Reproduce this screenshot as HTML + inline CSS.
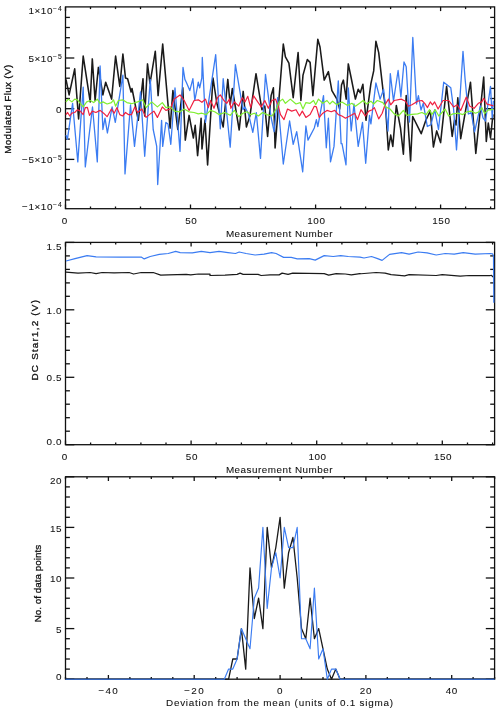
<!DOCTYPE html>
<html><head><meta charset="utf-8"><title>plot</title>
<style>
html,body{margin:0;padding:0;background:#fff;}
svg{display:block}
text{font-family:"Liberation Sans",sans-serif;font-size:9.9px;fill:#111;stroke:#111;stroke-width:0.08px;letter-spacing:0.55px}
.ttl{letter-spacing:0.55px}
.rot{stroke-width:0.3px}
</style></head><body>
<svg width="499" height="709" viewBox="0 0 499 709">
<rect width="499" height="709" fill="#fff"/>
<g stroke="#111" stroke-width="1.3" shape-rendering="auto">
<rect x="65.5" y="6.9" width="429.1" height="201.8" fill="none"/>
<line x1="65.5" y1="208.7" x2="65.5" y2="204.5"/>
<line x1="65.5" y1="6.9" x2="65.5" y2="11.1"/>
<line x1="90.5" y1="208.7" x2="90.5" y2="206.5"/>
<line x1="90.5" y1="6.9" x2="90.5" y2="9.1"/>
<line x1="115.5" y1="208.7" x2="115.5" y2="206.5"/>
<line x1="115.5" y1="6.9" x2="115.5" y2="9.1"/>
<line x1="140.5" y1="208.7" x2="140.5" y2="206.5"/>
<line x1="140.5" y1="6.9" x2="140.5" y2="9.1"/>
<line x1="165.5" y1="208.7" x2="165.5" y2="206.5"/>
<line x1="165.5" y1="6.9" x2="165.5" y2="9.1"/>
<line x1="190.5" y1="208.7" x2="190.5" y2="204.5"/>
<line x1="190.5" y1="6.9" x2="190.5" y2="11.1"/>
<line x1="215.5" y1="208.7" x2="215.5" y2="206.5"/>
<line x1="215.5" y1="6.9" x2="215.5" y2="9.1"/>
<line x1="240.5" y1="208.7" x2="240.5" y2="206.5"/>
<line x1="240.5" y1="6.9" x2="240.5" y2="9.1"/>
<line x1="265.5" y1="208.7" x2="265.5" y2="206.5"/>
<line x1="265.5" y1="6.9" x2="265.5" y2="9.1"/>
<line x1="290.6" y1="208.7" x2="290.6" y2="206.5"/>
<line x1="290.6" y1="6.9" x2="290.6" y2="9.1"/>
<line x1="315.6" y1="208.7" x2="315.6" y2="204.5"/>
<line x1="315.6" y1="6.9" x2="315.6" y2="11.1"/>
<line x1="340.6" y1="208.7" x2="340.6" y2="206.5"/>
<line x1="340.6" y1="6.9" x2="340.6" y2="9.1"/>
<line x1="365.6" y1="208.7" x2="365.6" y2="206.5"/>
<line x1="365.6" y1="6.9" x2="365.6" y2="9.1"/>
<line x1="390.6" y1="208.7" x2="390.6" y2="206.5"/>
<line x1="390.6" y1="6.9" x2="390.6" y2="9.1"/>
<line x1="415.6" y1="208.7" x2="415.6" y2="206.5"/>
<line x1="415.6" y1="6.9" x2="415.6" y2="9.1"/>
<line x1="440.6" y1="208.7" x2="440.6" y2="204.5"/>
<line x1="440.6" y1="6.9" x2="440.6" y2="11.1"/>
<line x1="465.6" y1="208.7" x2="465.6" y2="206.5"/>
<line x1="465.6" y1="6.9" x2="465.6" y2="9.1"/>
<line x1="490.6" y1="208.7" x2="490.6" y2="206.5"/>
<line x1="490.6" y1="6.9" x2="490.6" y2="9.1"/>
<line x1="65.5" y1="199.9" x2="69.9" y2="199.9"/>
<line x1="494.6" y1="199.9" x2="490.2" y2="199.9"/>
<line x1="65.5" y1="189.8" x2="69.9" y2="189.8"/>
<line x1="494.6" y1="189.8" x2="490.2" y2="189.8"/>
<line x1="65.5" y1="179.6" x2="69.9" y2="179.6"/>
<line x1="494.6" y1="179.6" x2="490.2" y2="179.6"/>
<line x1="65.5" y1="169.5" x2="69.9" y2="169.5"/>
<line x1="494.6" y1="169.5" x2="490.2" y2="169.5"/>
<line x1="65.5" y1="159.4" x2="74.3" y2="159.4"/>
<line x1="494.6" y1="159.4" x2="485.8" y2="159.4"/>
<line x1="65.5" y1="149.2" x2="69.9" y2="149.2"/>
<line x1="494.6" y1="149.2" x2="490.2" y2="149.2"/>
<line x1="65.5" y1="139.1" x2="69.9" y2="139.1"/>
<line x1="494.6" y1="139.1" x2="490.2" y2="139.1"/>
<line x1="65.5" y1="128.9" x2="69.9" y2="128.9"/>
<line x1="494.6" y1="128.9" x2="490.2" y2="128.9"/>
<line x1="65.5" y1="118.8" x2="69.9" y2="118.8"/>
<line x1="494.6" y1="118.8" x2="490.2" y2="118.8"/>
<line x1="65.5" y1="108.7" x2="74.3" y2="108.7"/>
<line x1="494.6" y1="108.7" x2="485.8" y2="108.7"/>
<line x1="65.5" y1="98.5" x2="69.9" y2="98.5"/>
<line x1="494.6" y1="98.5" x2="490.2" y2="98.5"/>
<line x1="65.5" y1="88.4" x2="69.9" y2="88.4"/>
<line x1="494.6" y1="88.4" x2="490.2" y2="88.4"/>
<line x1="65.5" y1="78.2" x2="69.9" y2="78.2"/>
<line x1="494.6" y1="78.2" x2="490.2" y2="78.2"/>
<line x1="65.5" y1="68.1" x2="69.9" y2="68.1"/>
<line x1="494.6" y1="68.1" x2="490.2" y2="68.1"/>
<line x1="65.5" y1="58.0" x2="74.3" y2="58.0"/>
<line x1="494.6" y1="58.0" x2="485.8" y2="58.0"/>
<line x1="65.5" y1="47.8" x2="69.9" y2="47.8"/>
<line x1="494.6" y1="47.8" x2="490.2" y2="47.8"/>
<line x1="65.5" y1="37.7" x2="69.9" y2="37.7"/>
<line x1="494.6" y1="37.7" x2="490.2" y2="37.7"/>
<line x1="65.5" y1="27.5" x2="69.9" y2="27.5"/>
<line x1="494.6" y1="27.5" x2="490.2" y2="27.5"/>
<line x1="65.5" y1="17.4" x2="69.9" y2="17.4"/>
<line x1="494.6" y1="17.4" x2="490.2" y2="17.4"/>
<rect x="65.5" y="242.4" width="429.1" height="202.3" fill="none"/>
<line x1="65.5" y1="444.7" x2="65.5" y2="440.5"/>
<line x1="65.5" y1="242.4" x2="65.5" y2="246.6"/>
<line x1="90.6" y1="444.7" x2="90.6" y2="442.5"/>
<line x1="90.6" y1="242.4" x2="90.6" y2="244.6"/>
<line x1="115.7" y1="444.7" x2="115.7" y2="442.5"/>
<line x1="115.7" y1="242.4" x2="115.7" y2="244.6"/>
<line x1="140.9" y1="444.7" x2="140.9" y2="442.5"/>
<line x1="140.9" y1="242.4" x2="140.9" y2="244.6"/>
<line x1="166.0" y1="444.7" x2="166.0" y2="442.5"/>
<line x1="166.0" y1="242.4" x2="166.0" y2="244.6"/>
<line x1="191.1" y1="444.7" x2="191.1" y2="440.5"/>
<line x1="191.1" y1="242.4" x2="191.1" y2="246.6"/>
<line x1="216.2" y1="444.7" x2="216.2" y2="442.5"/>
<line x1="216.2" y1="242.4" x2="216.2" y2="244.6"/>
<line x1="241.4" y1="444.7" x2="241.4" y2="442.5"/>
<line x1="241.4" y1="242.4" x2="241.4" y2="244.6"/>
<line x1="266.5" y1="444.7" x2="266.5" y2="442.5"/>
<line x1="266.5" y1="242.4" x2="266.5" y2="244.6"/>
<line x1="291.6" y1="444.7" x2="291.6" y2="442.5"/>
<line x1="291.6" y1="242.4" x2="291.6" y2="244.6"/>
<line x1="316.7" y1="444.7" x2="316.7" y2="440.5"/>
<line x1="316.7" y1="242.4" x2="316.7" y2="246.6"/>
<line x1="341.9" y1="444.7" x2="341.9" y2="442.5"/>
<line x1="341.9" y1="242.4" x2="341.9" y2="244.6"/>
<line x1="367.0" y1="444.7" x2="367.0" y2="442.5"/>
<line x1="367.0" y1="242.4" x2="367.0" y2="244.6"/>
<line x1="392.1" y1="444.7" x2="392.1" y2="442.5"/>
<line x1="392.1" y1="242.4" x2="392.1" y2="244.6"/>
<line x1="417.2" y1="444.7" x2="417.2" y2="442.5"/>
<line x1="417.2" y1="242.4" x2="417.2" y2="244.6"/>
<line x1="442.3" y1="444.7" x2="442.3" y2="440.5"/>
<line x1="442.3" y1="242.4" x2="442.3" y2="246.6"/>
<line x1="467.5" y1="444.7" x2="467.5" y2="442.5"/>
<line x1="467.5" y1="242.4" x2="467.5" y2="244.6"/>
<line x1="492.6" y1="444.7" x2="492.6" y2="442.5"/>
<line x1="492.6" y1="242.4" x2="492.6" y2="244.6"/>
<line x1="65.5" y1="444.7" x2="74.3" y2="444.7"/>
<line x1="494.6" y1="444.7" x2="485.8" y2="444.7"/>
<line x1="65.5" y1="431.2" x2="69.9" y2="431.2"/>
<line x1="494.6" y1="431.2" x2="490.2" y2="431.2"/>
<line x1="65.5" y1="417.7" x2="69.9" y2="417.7"/>
<line x1="494.6" y1="417.7" x2="490.2" y2="417.7"/>
<line x1="65.5" y1="404.2" x2="69.9" y2="404.2"/>
<line x1="494.6" y1="404.2" x2="490.2" y2="404.2"/>
<line x1="65.5" y1="390.8" x2="69.9" y2="390.8"/>
<line x1="494.6" y1="390.8" x2="490.2" y2="390.8"/>
<line x1="65.5" y1="377.3" x2="74.3" y2="377.3"/>
<line x1="494.6" y1="377.3" x2="485.8" y2="377.3"/>
<line x1="65.5" y1="363.8" x2="69.9" y2="363.8"/>
<line x1="494.6" y1="363.8" x2="490.2" y2="363.8"/>
<line x1="65.5" y1="350.3" x2="69.9" y2="350.3"/>
<line x1="494.6" y1="350.3" x2="490.2" y2="350.3"/>
<line x1="65.5" y1="336.8" x2="69.9" y2="336.8"/>
<line x1="494.6" y1="336.8" x2="490.2" y2="336.8"/>
<line x1="65.5" y1="323.3" x2="69.9" y2="323.3"/>
<line x1="494.6" y1="323.3" x2="490.2" y2="323.3"/>
<line x1="65.5" y1="309.8" x2="74.3" y2="309.8"/>
<line x1="494.6" y1="309.8" x2="485.8" y2="309.8"/>
<line x1="65.5" y1="296.3" x2="69.9" y2="296.3"/>
<line x1="494.6" y1="296.3" x2="490.2" y2="296.3"/>
<line x1="65.5" y1="282.9" x2="69.9" y2="282.9"/>
<line x1="494.6" y1="282.9" x2="490.2" y2="282.9"/>
<line x1="65.5" y1="269.4" x2="69.9" y2="269.4"/>
<line x1="494.6" y1="269.4" x2="490.2" y2="269.4"/>
<line x1="65.5" y1="255.9" x2="69.9" y2="255.9"/>
<line x1="494.6" y1="255.9" x2="490.2" y2="255.9"/>
<line x1="65.5" y1="242.4" x2="74.3" y2="242.4"/>
<line x1="494.6" y1="242.4" x2="485.8" y2="242.4"/>
<rect x="65.5" y="476.8" width="429.1" height="202.4" fill="none"/>
<line x1="65.5" y1="679.2" x2="65.5" y2="677.0"/>
<line x1="65.5" y1="476.8" x2="65.5" y2="479.0"/>
<line x1="87.0" y1="679.2" x2="87.0" y2="677.0"/>
<line x1="87.0" y1="476.8" x2="87.0" y2="479.0"/>
<line x1="108.4" y1="679.2" x2="108.4" y2="675.0"/>
<line x1="108.4" y1="476.8" x2="108.4" y2="481.0"/>
<line x1="129.9" y1="679.2" x2="129.9" y2="677.0"/>
<line x1="129.9" y1="476.8" x2="129.9" y2="479.0"/>
<line x1="151.3" y1="679.2" x2="151.3" y2="677.0"/>
<line x1="151.3" y1="476.8" x2="151.3" y2="479.0"/>
<line x1="172.8" y1="679.2" x2="172.8" y2="677.0"/>
<line x1="172.8" y1="476.8" x2="172.8" y2="479.0"/>
<line x1="194.2" y1="679.2" x2="194.2" y2="675.0"/>
<line x1="194.2" y1="476.8" x2="194.2" y2="481.0"/>
<line x1="215.7" y1="679.2" x2="215.7" y2="677.0"/>
<line x1="215.7" y1="476.8" x2="215.7" y2="479.0"/>
<line x1="237.1" y1="679.2" x2="237.1" y2="677.0"/>
<line x1="237.1" y1="476.8" x2="237.1" y2="479.0"/>
<line x1="258.6" y1="679.2" x2="258.6" y2="677.0"/>
<line x1="258.6" y1="476.8" x2="258.6" y2="479.0"/>
<line x1="280.1" y1="679.2" x2="280.1" y2="675.0"/>
<line x1="280.1" y1="476.8" x2="280.1" y2="481.0"/>
<line x1="301.5" y1="679.2" x2="301.5" y2="677.0"/>
<line x1="301.5" y1="476.8" x2="301.5" y2="479.0"/>
<line x1="323.0" y1="679.2" x2="323.0" y2="677.0"/>
<line x1="323.0" y1="476.8" x2="323.0" y2="479.0"/>
<line x1="344.4" y1="679.2" x2="344.4" y2="677.0"/>
<line x1="344.4" y1="476.8" x2="344.4" y2="479.0"/>
<line x1="365.9" y1="679.2" x2="365.9" y2="675.0"/>
<line x1="365.9" y1="476.8" x2="365.9" y2="481.0"/>
<line x1="387.3" y1="679.2" x2="387.3" y2="677.0"/>
<line x1="387.3" y1="476.8" x2="387.3" y2="479.0"/>
<line x1="408.8" y1="679.2" x2="408.8" y2="677.0"/>
<line x1="408.8" y1="476.8" x2="408.8" y2="479.0"/>
<line x1="430.2" y1="679.2" x2="430.2" y2="677.0"/>
<line x1="430.2" y1="476.8" x2="430.2" y2="479.0"/>
<line x1="451.7" y1="679.2" x2="451.7" y2="675.0"/>
<line x1="451.7" y1="476.8" x2="451.7" y2="481.0"/>
<line x1="473.1" y1="679.2" x2="473.1" y2="677.0"/>
<line x1="473.1" y1="476.8" x2="473.1" y2="479.0"/>
<line x1="494.6" y1="679.2" x2="494.6" y2="677.0"/>
<line x1="494.6" y1="476.8" x2="494.6" y2="479.0"/>
<line x1="65.5" y1="679.2" x2="74.3" y2="679.2"/>
<line x1="494.6" y1="679.2" x2="485.8" y2="679.2"/>
<line x1="65.5" y1="669.1" x2="69.9" y2="669.1"/>
<line x1="494.6" y1="669.1" x2="490.2" y2="669.1"/>
<line x1="65.5" y1="659.0" x2="69.9" y2="659.0"/>
<line x1="494.6" y1="659.0" x2="490.2" y2="659.0"/>
<line x1="65.5" y1="648.8" x2="69.9" y2="648.8"/>
<line x1="494.6" y1="648.8" x2="490.2" y2="648.8"/>
<line x1="65.5" y1="638.7" x2="69.9" y2="638.7"/>
<line x1="494.6" y1="638.7" x2="490.2" y2="638.7"/>
<line x1="65.5" y1="628.6" x2="74.3" y2="628.6"/>
<line x1="494.6" y1="628.6" x2="485.8" y2="628.6"/>
<line x1="65.5" y1="618.5" x2="69.9" y2="618.5"/>
<line x1="494.6" y1="618.5" x2="490.2" y2="618.5"/>
<line x1="65.5" y1="608.4" x2="69.9" y2="608.4"/>
<line x1="494.6" y1="608.4" x2="490.2" y2="608.4"/>
<line x1="65.5" y1="598.2" x2="69.9" y2="598.2"/>
<line x1="494.6" y1="598.2" x2="490.2" y2="598.2"/>
<line x1="65.5" y1="588.1" x2="69.9" y2="588.1"/>
<line x1="494.6" y1="588.1" x2="490.2" y2="588.1"/>
<line x1="65.5" y1="578.0" x2="74.3" y2="578.0"/>
<line x1="494.6" y1="578.0" x2="485.8" y2="578.0"/>
<line x1="65.5" y1="567.9" x2="69.9" y2="567.9"/>
<line x1="494.6" y1="567.9" x2="490.2" y2="567.9"/>
<line x1="65.5" y1="557.8" x2="69.9" y2="557.8"/>
<line x1="494.6" y1="557.8" x2="490.2" y2="557.8"/>
<line x1="65.5" y1="547.6" x2="69.9" y2="547.6"/>
<line x1="494.6" y1="547.6" x2="490.2" y2="547.6"/>
<line x1="65.5" y1="537.5" x2="69.9" y2="537.5"/>
<line x1="494.6" y1="537.5" x2="490.2" y2="537.5"/>
<line x1="65.5" y1="527.4" x2="74.3" y2="527.4"/>
<line x1="494.6" y1="527.4" x2="485.8" y2="527.4"/>
<line x1="65.5" y1="517.3" x2="69.9" y2="517.3"/>
<line x1="494.6" y1="517.3" x2="490.2" y2="517.3"/>
<line x1="65.5" y1="507.2" x2="69.9" y2="507.2"/>
<line x1="494.6" y1="507.2" x2="490.2" y2="507.2"/>
<line x1="65.5" y1="497.0" x2="69.9" y2="497.0"/>
<line x1="494.6" y1="497.0" x2="490.2" y2="497.0"/>
<line x1="65.5" y1="486.9" x2="69.9" y2="486.9"/>
<line x1="494.6" y1="486.9" x2="490.2" y2="486.9"/>
<line x1="65.5" y1="476.8" x2="74.3" y2="476.8"/>
<line x1="494.6" y1="476.8" x2="485.8" y2="476.8"/>
</g>
<polyline fill="none" stroke="#1a1a1a" stroke-width="1.55" stroke-linejoin="round" points="66.0,79.4 69.1,94.9 74.7,68.8 78.6,118.9 83.2,56.1 90.2,101.9 92.3,58.9 95.1,100.5 98.4,67.4 102.9,94.9 105.7,82.2 111.6,99.1 115.6,56.1 119.8,86.4 122.9,54.0 125.5,78.0 127.6,78.7 131.1,92.0 132.0,88.5 138.3,120.3 143.0,78.7 144.7,116.0 147.5,63.9 150.0,83.6 155.3,51.2 158.1,95.6 162.7,44.1 170.1,128.1 172.9,90.6 177.8,129.5 182.8,87.8 185.3,140.1 189.1,115.4 193.4,138.0 195.2,125.3 197.6,155.6 201.1,118.2 202.0,149.0 205.0,120.0 207.6,165.0 213.0,78.0 216.8,103.0 223.2,127.0 227.8,79.4 230.2,104.8 232.3,88.5 239.2,130.0 243.2,91.4 246.4,127.0 250.0,115.4 256.0,73.7 261.9,109.7 264.8,106.0 267.6,136.5 271.1,95.6 273.4,87.8 275.1,148.0 283.3,44.1 285.4,56.8 288.9,63.1 293.2,97.7 298.1,52.6 300.9,100.5 303.0,75.1 307.3,59.6 310.1,62.4 312.9,95.6 317.8,39.2 320.0,47.0 324.2,80.1 328.4,71.6 331.9,90.6 336.9,99.1 339.7,109.0 341.5,85.0 343.4,80.1 346.2,99.1 348.3,63.9 351.2,78.0 355.4,99.1 358.2,89.2 360.3,92.8 362.9,84.3 366.0,120.3 370.9,83.6 373.7,70.9 375.9,41.3 378.7,52.6 382.9,89.2 385.7,109.0 388.3,150.0 390.7,135.1 392.8,146.4 396.3,105.5 400.5,128.1 403.4,154.2 406.2,95.6 410.6,161.0 412.7,116.5 421.2,133.7 426.1,119.6 430.3,111.0 433.4,147.0 436.7,130.9 440.6,142.6 446.6,86.4 452.2,136.5 454.5,120.0 456.0,125.0 457.8,97.7 460.7,138.7 470.5,82.2 475.8,153.4 483.7,77.1 486.3,141.5 488.3,123.0 490.5,138.0 493.0,114.4"/>
<polyline fill="none" stroke="#3b7cf2" stroke-width="1.3" stroke-linejoin="round" points="66.0,135.1 67.4,139.4 72.6,103.3 77.8,161.9 83.2,87.1 85.3,166.9 92.5,107.0 97.3,161.9 100.1,66.0 102.9,129.5 105.0,118.2 107.4,133.0 112.1,106.9 115.3,122.4 122.9,75.1 125.0,173.9 130.5,105.0 134.5,146.4 140.5,92.0 144.7,156.3 150.3,79.4 153.2,129.5 156.7,146.4 157.7,184.5 161.6,120.3 162.7,146.4 165.9,122.4 168.0,124.0 170.8,144.3 175.0,87.8 180.0,151.4 183.0,67.4 184.9,79.4 186.3,82.2 189.8,90.6 192.9,78.7 194.8,100.5 198.3,82.2 199.7,87.8 201.8,78.0 202.3,57.5 205.5,122.4 215.7,54.7 220.3,128.8 223.2,78.7 230.2,147.1 235.4,64.6 243.0,109.7 245.0,107.0 248.5,114.0 252.8,132.3 256.3,112.6 260.5,158.4 265.5,74.4 271.1,117.5 274.1,131.6 277.6,97.7 283.3,164.0 289.6,121.0 293.2,144.3 296.7,131.6 302.7,171.8 305.9,126.0 308.0,140.1 314.3,128.0 316.4,119.6 317.8,126.7 323.5,95.6 326.3,147.8 328.4,118.2 330.5,161.9 334.0,146.4 338.3,80.8 341.1,143.6 342.0,143.6 346.0,164.8 348.3,87.8 351.2,130.9 354.0,104.0 358.2,146.4 362.5,122.4 365.7,163.3 369.5,115.4 370.9,123.9 375.9,82.9 380.1,99.1 383.6,89.2 388.0,131.0 390.3,73.6 393.5,101.0 398.1,70.5 400.9,96.9 404.0,62.0 406.2,66.7 409.5,122.0 412.8,37.5 416.5,104.0 418.4,95.7 421.0,110.0 423.3,103.3 427.3,126.5 431.0,124.6 434.7,109.7 438.5,129.5 443.7,82.2 450.8,87.8 453.6,109.0 456.5,149.9 460.7,86.4 463.0,51.4 465.0,78.0 468.4,114.0 471.2,112.6 474.6,131.8 480.4,106.0 483.0,117.8 485.5,121.0 490.5,86.4 492.2,117.8 493.4,100.8"/>
<polyline fill="none" stroke="#f02040" stroke-width="1.2" stroke-linejoin="round" points="65.9,114.6 67.6,112.5 69.8,116.0 71.9,113.2 74.7,112.5 77.5,109.7 80.3,111.1 83.2,114.6 85.3,107.6 87.4,107.3 89.5,115.3 92.3,111.1 95.9,112.5 100.1,110.4 103.6,113.2 107.1,116.7 111.4,109.0 114.2,113.2 117.0,107.6 119.8,114.6 122.6,116.0 125.5,112.5 128.3,114.6 131.6,114.6 134.8,106.9 137.6,112.5 141.9,109.0 146.1,117.4 150.3,113.9 153.9,111.1 157.4,117.4 162.3,106.9 165.9,110.4 170.1,109.0 174.3,99.1 180.0,94.9 184.2,100.5 189.1,110.4 194.1,100.5 198.3,99.8 201.9,102.3 205.5,99.1 208.3,107.6 210.5,100.5 214.0,108.3 217.5,97.7 220.3,94.9 223.9,100.5 226.7,103.3 229.5,99.1 230.9,108.3 234.4,101.9 238.7,106.2 242.2,97.7 245.0,101.9 247.8,96.3 250.7,107.6 253.5,95.6 257.7,101.9 261.2,106.9 264.8,100.5 268.3,108.3 271.9,100.5 275.5,99.1 278.3,106.2 280.5,114.6 284.0,119.6 287.5,109.0 291.7,111.1 296.0,109.7 299.5,116.0 302.3,111.1 305.9,117.4 310.1,114.6 314.3,106.2 316.4,106.9 319.2,117.4 322.8,113.2 327.0,110.4 331.2,111.8 334.8,110.4 338.3,114.6 341.9,116.0 345.5,118.2 349.8,116.0 354.7,113.2 357.5,119.6 361.0,109.7 365.3,116.0 368.8,111.1 372.3,109.7 374.4,107.6 378.7,118.9 382.2,113.2 385.0,104.8 388.5,99.1 390.7,104.8 394.2,100.5 401.2,99.1 405.5,101.2 408.3,106.2 411.9,104.8 417.6,101.2 421.9,100.5 424.7,103.3 427.5,107.6 430.3,101.9 432.5,104.8 434.6,101.9 438.1,109.0 443.0,100.5 448.7,100.5 453.6,106.9 457.1,104.8 460.7,110.4 466.3,97.0 469.8,106.2 474.1,108.3 478.3,103.3 481.8,101.9 483.7,98.3 487.1,104.2 493.4,105.9"/>
<polyline fill="none" stroke="#7fee30" stroke-width="1.2" stroke-linejoin="round" points="65.9,101.9 68.3,99.1 71.9,101.9 74.7,99.1 77.5,99.8 80.3,103.3 83.2,106.9 86.7,101.9 90.2,100.5 93.7,102.6 97.3,99.1 100.1,103.3 102.9,101.9 107.1,104.0 111.4,102.6 113.5,99.8 115.6,106.2 118.4,100.5 122.6,99.8 126.9,102.6 131.6,103.7 137.6,101.9 142.6,99.8 146.1,107.6 151.7,101.9 157.4,106.9 162.3,102.6 165.9,107.6 170.1,106.9 174.3,111.1 180.0,111.8 184.2,109.0 189.1,111.8 194.1,112.5 198.3,113.9 201.9,113.2 206.2,114.6 210.5,110.4 214.7,111.8 218.9,114.6 224.6,112.5 230.2,115.3 234.4,110.4 238.7,116.7 242.9,113.2 247.1,111.8 250.7,114.6 254.2,113.2 258.4,116.0 262.6,112.5 266.9,114.6 271.9,116.0 276.2,109.0 279.1,101.9 282.6,99.1 285.4,103.3 290.3,99.1 296.0,104.0 300.2,102.6 303.0,109.0 305.9,102.6 310.1,103.3 313.6,100.5 315.7,104.8 318.5,99.1 322.8,103.3 327.0,100.5 329.8,104.0 332.6,101.2 336.9,104.8 341.9,101.9 347.6,105.5 351.9,103.3 355.4,106.2 359.6,103.3 363.2,100.5 366.7,104.0 370.9,101.2 373.7,104.0 377.3,100.5 382.9,102.6 385.7,106.9 390.0,109.0 394.2,113.9 398.4,116.0 403.4,110.4 406.9,115.3 411.9,114.3 417.6,113.9 421.9,112.5 426.1,114.6 429.6,109.7 431.7,114.6 435.3,109.7 438.8,116.0 445.1,109.0 448.7,116.0 452.9,113.9 458.5,113.2 462.8,114.6 467.0,111.8 471.2,111.1 475.5,113.2 479.0,111.8 481.8,107.6 484.6,113.6 488.0,110.2 493.4,109.3"/>
<polyline fill="none" stroke="#1a1a1a" stroke-width="1.25" stroke-linejoin="round" points="66.0,272.2 78.0,273.1 90.1,272.5 96.1,273.7 102.1,272.5 114.1,272.8 129.1,272.5 133.6,274.0 141.2,272.5 153.2,272.5 160.7,275.2 168.2,274.9 186.2,274.3 190.7,274.9 198.3,274.0 210.0,274.0 210.0,275.5 225.0,275.2 237.1,274.3 240.1,273.1 243.1,274.3 258.1,274.3 261.1,275.5 270.1,274.9 279.1,274.9 282.1,273.1 288.1,274.3 292.7,273.1 324.2,273.7 328.7,275.2 336.2,273.7 345.3,274.0 351.3,274.9 360.0,273.7 358.0,274.0 376.1,272.5 385.1,273.1 391.1,274.6 404.6,275.8 409.1,274.6 436.2,275.5 442.2,274.6 460.2,276.1 469.2,275.5 490.3,275.5 491.5,275.3 493.0,277.0"/>
<polyline fill="none" stroke="#3b7cf2" stroke-width="1.2" stroke-linejoin="round" points="66.0,261.0 75.0,258.6 87.1,255.6 96.1,256.8 120.1,257.1 141.2,257.1 144.2,258.9 150.2,256.5 159.2,254.4 168.2,253.5 175.7,251.4 180.2,252.6 192.3,252.9 201.3,251.4 210.0,252.6 219.0,251.4 228.0,252.6 235.5,253.5 239.2,252.0 246.1,253.5 255.1,255.0 264.1,254.1 271.6,252.6 276.1,253.5 283.6,257.4 291.2,257.4 297.2,258.9 309.2,258.6 315.2,260.1 324.2,255.6 333.2,256.5 340.7,255.6 348.3,256.5 360.0,257.1 364.0,258.0 371.5,256.5 377.6,258.6 382.1,260.4 389.6,254.4 401.6,252.6 409.1,254.1 418.1,252.0 427.1,252.9 436.2,255.0 445.2,253.5 454.2,254.1 463.2,252.6 475.2,254.1 490.3,253.5 492.6,253.8 493.5,256.0 493.8,302.7"/>
<polyline fill="none" stroke="#1a1a1a" stroke-width="1.3" stroke-linejoin="round" points="65.5,679.2 69.8,679.2 74.1,679.2 78.4,679.2 82.7,679.2 87.0,679.2 91.2,679.2 95.5,679.2 99.8,679.2 104.1,679.2 108.4,679.2 112.7,679.2 117.0,679.2 121.3,679.2 125.6,679.2 129.9,679.2 134.2,679.2 138.4,679.2 142.7,679.2 147.0,679.2 151.3,679.2 155.6,679.2 159.9,679.2 164.2,679.2 168.5,679.2 172.8,679.2 177.1,679.2 181.4,679.2 185.6,679.2 189.9,679.2 194.2,679.2 198.5,679.2 202.8,679.2 207.1,679.2 211.4,679.2 215.7,679.2 220.0,679.2 224.3,679.2 228.6,679.2 232.8,659.0 237.1,659.0 241.4,628.6 245.7,669.1 250.0,567.9 254.3,618.5 258.6,598.2 262.9,628.6 267.2,527.4 271.5,567.9 275.8,547.6 280.1,517.3 284.3,588.1 288.6,552.7 292.9,537.5 297.2,578.0 301.5,628.6 305.8,638.7 310.1,598.2 314.4,638.7 318.7,628.6 323.0,648.8 327.3,669.1 331.5,679.2 335.8,669.1 340.1,679.2 344.4,679.2 348.7,679.2 353.0,679.2 357.3,679.2 361.6,679.2 365.9,679.2 370.2,679.2 374.5,679.2 378.7,679.2 383.0,679.2 387.3,679.2 391.6,679.2 395.9,679.2 400.2,679.2 404.5,679.2 408.8,679.2 413.1,679.2 417.4,679.2 421.7,679.2 425.9,679.2 430.2,679.2 434.5,679.2 438.8,679.2 443.1,679.2 447.4,679.2 451.7,679.2 456.0,679.2 460.3,679.2 464.6,679.2 468.9,679.2 473.1,679.2 477.4,679.2 481.7,679.2 486.0,679.2 490.3,679.2 494.6,679.2"/>
<polyline fill="none" stroke="#3b7cf2" stroke-width="1.15" stroke-linejoin="round" points="65.5,679.2 69.8,679.2 74.1,679.2 78.4,679.2 82.7,679.2 87.0,679.2 91.2,679.2 95.5,679.2 99.8,679.2 104.1,679.2 108.4,679.2 112.7,679.2 117.0,679.2 121.3,679.2 125.6,679.2 129.9,679.2 134.2,679.2 138.4,679.2 142.7,679.2 147.0,679.2 151.3,679.2 155.6,679.2 159.9,679.2 164.2,679.2 168.5,679.2 172.8,679.2 177.1,679.2 181.4,679.2 185.6,679.2 189.9,679.2 194.2,679.2 198.5,679.2 202.8,679.2 207.1,679.2 211.4,679.2 215.7,679.2 220.0,679.2 224.3,679.2 228.6,669.1 232.8,669.1 237.1,659.0 241.4,628.6 245.7,638.7 250.0,648.8 254.3,598.2 258.6,588.1 262.9,527.4 267.2,608.4 271.5,567.9 275.8,552.7 280.1,578.0 284.3,527.4 288.6,547.6 292.9,547.6 297.2,527.4 301.5,638.7 305.8,638.7 310.1,648.8 314.4,588.1 318.7,659.0 323.0,648.8 327.3,679.2 331.5,669.1 335.8,669.1 340.1,679.2 344.4,679.2 348.7,679.2 353.0,679.2 357.3,679.2 361.6,679.2 365.9,679.2 370.2,679.2 374.5,679.2 378.7,679.2 383.0,679.2 387.3,679.2 391.6,679.2 395.9,679.2 400.2,679.2 404.5,679.2 408.8,679.2 413.1,679.2 417.4,679.2 421.7,679.2 425.9,679.2 430.2,679.2 434.5,679.2 438.8,679.2 443.1,679.2 447.4,679.2 451.7,679.2 456.0,679.2 460.3,679.2 464.6,679.2 468.9,679.2 473.1,679.2 477.4,679.2 481.7,679.2 486.0,679.2 490.3,679.2 494.6,679.2"/>
<text x="64.8" y="224.4" text-anchor="middle">0</text>
<text x="191.3" y="224.4" text-anchor="middle">50</text>
<text x="316.4" y="224.4" text-anchor="middle">100</text>
<text x="441.4" y="224.4" text-anchor="middle">150</text>
<text x="279.5" y="236.9" text-anchor="middle" class="ttl" textLength="107.2" lengthAdjust="spacing">Measurement Number</text>
<text x="62.6" y="14.4" text-anchor="end" style="letter-spacing:0.6px">1×10<tspan dy="-3" font-size="6.8" style="letter-spacing:0.9px">−4</tspan></text>
<text x="62.6" y="61.8" text-anchor="end" style="letter-spacing:0.6px">5×10<tspan dy="-3" font-size="6.8" style="letter-spacing:0.9px">−5</tspan></text>
<text x="62.0" y="112.5" text-anchor="end">0</text>
<text x="62.6" y="162.5" text-anchor="end" style="letter-spacing:0.6px">−5×10<tspan dy="-3" font-size="6.8" style="letter-spacing:0.9px">−5</tspan></text>
<text x="62.6" y="209.5" text-anchor="end" style="letter-spacing:0.6px">−1×10<tspan dy="-3" font-size="6.8" style="letter-spacing:0.9px">−4</tspan></text>
<text transform="translate(11.2,109) rotate(-90)" text-anchor="middle" class="ttl rot" textLength="89.5" lengthAdjust="spacing">Modulated Flux (V)</text>
<text x="64.8" y="460.2" text-anchor="middle">0</text>
<text x="191.9" y="460.2" text-anchor="middle">50</text>
<text x="317.5" y="460.2" text-anchor="middle">100</text>
<text x="443.1" y="460.2" text-anchor="middle">150</text>
<text x="279.5" y="472.7" text-anchor="middle" class="ttl" textLength="107.2" lengthAdjust="spacing">Measurement Number</text>
<text x="62.0" y="250.0" text-anchor="end">1.5</text>
<text x="62.0" y="313.6" text-anchor="end">1.0</text>
<text x="62.0" y="380.8" text-anchor="end">0.5</text>
<text x="62.0" y="445.4" text-anchor="end">0.0</text>
<text transform="translate(38,340) rotate(-90)" text-anchor="middle" class="ttl rot" textLength="81" lengthAdjust="spacing">DC Star1,2 (V)</text>
<text x="108.4" y="693.9" text-anchor="middle" textLength="20.0" lengthAdjust="spacing">−40</text>
<text x="194.2" y="693.9" text-anchor="middle" textLength="20.0" lengthAdjust="spacing">−20</text>
<text x="280.1" y="693.9" text-anchor="middle">0</text>
<text x="365.9" y="693.9" text-anchor="middle">20</text>
<text x="451.7" y="693.9" text-anchor="middle">40</text>
<text x="279.8" y="705.7" text-anchor="middle" class="ttl" textLength="227.6" lengthAdjust="spacing">Deviation from the mean (units of 0.1 sigma)</text>
<text x="62.0" y="484.0" text-anchor="end">20</text>
<text x="62.0" y="531.7" text-anchor="end">15</text>
<text x="62.0" y="582.0" text-anchor="end">10</text>
<text x="62.0" y="632.8" text-anchor="end">5</text>
<text x="62.0" y="679.6" text-anchor="end">0</text>
<text transform="translate(41.2,583.3) rotate(-90)" text-anchor="middle" class="ttl rot" textLength="78" lengthAdjust="spacing">No. of data points</text>
</svg>
</body></html>
